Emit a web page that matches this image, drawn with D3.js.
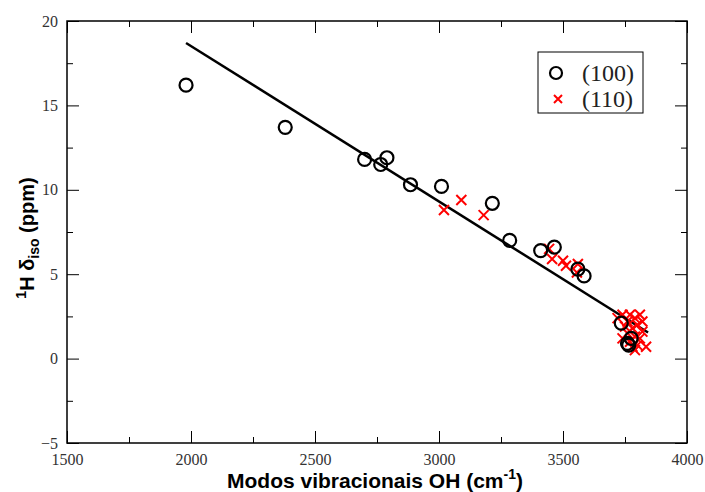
<!DOCTYPE html>
<html><head><meta charset="utf-8">
<script src="https://cdn.jsdelivr.net/npm/d3@7"></script>
<style>body{margin:0;background:#fff}svg{display:block}</style>
</head><body>
<script>
const xTicks = [1500, 2000, 2500, 3000, 3500, 4000];
const yTicks = [-5, 0, 5, 10, 15, 20];
const series100X = [1980, 2380, 2700, 2765, 2790, 2885, 3010, 3215, 3285, 3410, 3465, 3560, 3585, 3735, 3760, 3775, 3765];
const series100Y = [16.2, 13.7, 11.8, 11.5, 11.9, 10.3, 10.2, 9.2, 7.0, 6.4, 6.6, 5.3, 4.9, 2.1, 0.9, 1.2, 0.8];
const series110X = [3020, 3090, 3180, 3444, 3456, 3500, 3512, 3560, 3556,
  3720, 3740, 3760, 3770, 3790, 3810, 3750, 3780, 3800, 3820, 3760, 3790, 3810, 3770, 3800, 3835, 3790, 3740, 3820, 3780];
const series110Y = [8.8, 9.4, 8.5, 6.5, 5.9, 5.8, 5.5, 5.6, 5.1,
  2.4, 2.6, 2.2, 2.6, 2.4, 2.6, 1.9, 1.8, 2.0, 1.6, 1.5, 1.3, 1.2, 1.0, 0.8, 0.7, 0.5, 1.2, 2.2, 0.7];
const fitX = [1980, 3843];
const fitY = [18.7, 1.55];
const legendLabels = ["(100)", "(110)"];

const W = 705, H = 492;
const L = 67, R = 687, T = 21, B = 443;
const svg = d3.select("body").append("svg").attr("width", W).attr("height", H);
const x = d3.scaleLinear().domain([1500, 4000]).range([L, R]);
const y = d3.scaleLinear().domain([-5, 20]).range([B, T]);

const serif = "'Liberation Serif', 'Times New Roman', serif";
const sans = "'Liberation Sans', Arial, sans-serif";

svg.append("rect").attr("x", L).attr("y", T).attr("width", R - L).attr("height", B - T)
  .attr("fill", "none").attr("stroke", "#000").attr("stroke-width", 1.5);

const xMinor = d3.range(1750, 4000, 500);
const yMinor = d3.range(-2.5, 20, 5);
function tickSet(axisGen, tr) {
  const g = svg.append("g").attr("transform", tr).call(axisGen);
  g.select(".domain").remove();
  g.selectAll("line").attr("stroke", "#000").attr("stroke-width", 1);
  return g;
}
const gb = tickSet(d3.axisTop(x).tickValues(xTicks).tickSize(12).tickFormat(d3.format("d")), `translate(0,${B})`);
gb.selectAll("text").attr("y", 11).attr("dy", "0.71em").attr("font-family", serif).attr("font-size", 16).attr("fill", "#333");
tickSet(d3.axisTop(x).tickValues(xMinor).tickSize(6).tickFormat(""), `translate(0,${B})`);
tickSet(d3.axisBottom(x).tickValues(xTicks).tickSize(12).tickFormat(""), `translate(0,${T})`);
tickSet(d3.axisBottom(x).tickValues(xMinor).tickSize(6).tickFormat(""), `translate(0,${T})`);
const gl = tickSet(d3.axisRight(y).tickValues(yTicks).tickSize(12).tickFormat(d3.format("d")), `translate(${L},0)`);
gl.selectAll("text").attr("x", -9).attr("text-anchor", "end").attr("font-family", serif).attr("font-size", 16).attr("fill", "#333");
tickSet(d3.axisRight(y).tickValues(yMinor).tickSize(6).tickFormat(""), `translate(${L},0)`);
tickSet(d3.axisLeft(y).tickValues(yTicks).tickSize(12).tickFormat(""), `translate(${R},0)`);
tickSet(d3.axisLeft(y).tickValues(yMinor).tickSize(6).tickFormat(""), `translate(${R},0)`);

const line = d3.line().x(d => x(d[0])).y(d => y(d[1]));
svg.append("path").datum(d3.zip(fitX, fitY)).attr("d", line)
  .attr("fill", "none").attr("stroke", "#000").attr("stroke-width", 2.5);

const cs = 5;
const crossPath = `M${-cs},${-cs}L${cs},${cs}M${-cs},${cs}L${cs},${-cs}`;
svg.append("g").selectAll("path").data(d3.zip(series110X, series110Y)).join("path")
  .attr("transform", d => `translate(${x(d[0])},${y(d[1])})`)
  .attr("d", crossPath).attr("stroke", "#ff0000").attr("stroke-width", 2).attr("fill", "none");

svg.append("g").selectAll("circle").data(d3.zip(series100X, series100Y)).join("circle")
  .attr("cx", d => x(d[0])).attr("cy", d => y(d[1])).attr("r", 6.5)
  .attr("fill", "none").attr("stroke", "#000").attr("stroke-width", 2.2);

const lg = svg.append("g");
lg.append("rect").attr("x", 538).attr("y", 52).attr("width", 105).attr("height", 61)
  .attr("fill", "#fff").attr("stroke", "#000").attr("stroke-width", 1);
lg.append("circle").attr("cx", 556).attr("cy", 73).attr("r", 6).attr("fill", "none").attr("stroke", "#000").attr("stroke-width", 2.2);
lg.append("path").attr("transform", "translate(558,99)").attr("d", `M-4,-4L4,4M-4,4L4,-4`).attr("stroke", "#ff0000").attr("stroke-width", 2);
lg.selectAll("text").data(legendLabels).join("text")
  .attr("x", 582).attr("y", (d, i) => 81 + i * 26)
  .attr("font-family", serif).attr("font-size", 24).attr("fill", "#222").text(d => d);

const xt = svg.append("text").attr("x", 375).attr("y", 488).attr("text-anchor", "middle")
  .attr("font-family", sans).attr("font-weight", "bold").attr("font-size", 21).attr("fill", "#000");
xt.append("tspan").text("Modos vibracionais OH (cm");
xt.append("tspan").attr("dy", -9).attr("font-size", 14).text("-1");
xt.append("tspan").attr("dy", 9).text(")");

const yt = svg.append("text").attr("transform", "translate(34,238) rotate(-90)").attr("text-anchor", "middle")
  .attr("font-family", sans).attr("font-weight", "bold").attr("font-size", 20).attr("fill", "#000");
yt.append("tspan").attr("dy", -8).attr("font-size", 14).text("1");
yt.append("tspan").attr("dy", 8).text("H δ");
yt.append("tspan").attr("dy", 5).attr("font-size", 14).text("iso");
yt.append("tspan").attr("dy", -5).text(" (ppm)");
</script>
</body></html>
